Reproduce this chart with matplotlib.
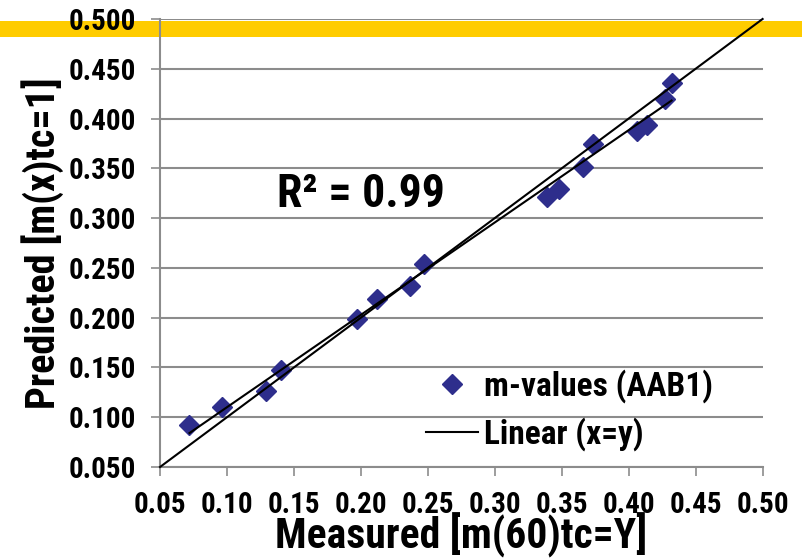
import matplotlib
matplotlib.use('Agg')
import matplotlib.pyplot as plt
import matplotlib.patches as mpatches
from matplotlib import font_manager
import numpy as np

# measured vs predicted m-values
measured = [0.072, 0.096, 0.129, 0.140, 0.197, 0.212, 0.237, 0.247,
            0.339, 0.348, 0.366, 0.373, 0.406, 0.414, 0.427, 0.432]
predicted = [0.092, 0.110, 0.126, 0.147, 0.199, 0.219, 0.232, 0.254,
             0.321, 0.329, 0.351, 0.374, 0.387, 0.394, 0.420, 0.436]
identity = [0.05, 0.50]
r2_text = 'R² = 0.99'

x_ticks = [0.05, 0.10, 0.15, 0.20, 0.25, 0.30, 0.35, 0.40, 0.45, 0.50]
y_ticks = [0.050, 0.100, 0.150, 0.200, 0.250, 0.300, 0.350, 0.400, 0.450, 0.500]

NAVY = '#2E2E8C'
GRID = '#8C8C8C'
BAND = '#FFCC00'


def pick_narrow_font():
    fonts = font_manager.fontManager.ttflist
    names = {f.name for f in fonts}
    for cand in ['Liberation Sans Narrow', 'Roboto Condensed', 'Open Sans Condensed',
                 'Noto Sans Condensed', 'DejaVu Sans Condensed', 'Noto Sans SemiCondensed']:
        if cand in names:
            return cand, 'normal'
    for f in fonts:
        if 'condensed' in str(f.stretch) and f.name in ('DejaVu Sans', 'Noto Sans', 'Roboto', 'Open Sans'):
            return f.name, 'condensed'
    return 'DejaVu Sans', 'normal'


family, stretch = pick_narrow_font()
plt.rcParams['font.family'] = [family, 'DejaVu Sans']
plt.rcParams['font.stretch'] = stretch
plt.rcParams['font.weight'] = 'bold'
plt.rcParams['axes.labelweight'] = 'bold'

fig = plt.figure(figsize=(8.03, 5.58), dpi=100)
fig.patches.append(mpatches.Rectangle((0, 0.9337), 1, 0.0287, transform=fig.transFigure,
                                      facecolor=BAND, edgecolor='none', zorder=-5))

ax = fig.add_axes([0.1993, 0.1631, 0.7504, 0.8029])
ax.patch.set_visible(False)

ax.set_xlim(0.05, 0.50)
ax.set_ylim(0.05, 0.50)
ax.set_xticks(x_ticks)
ax.set_yticks(y_ticks)
ax.set_xticklabels([f'{v:.2f}' for v in x_ticks])
ax.set_yticklabels([f'{v:.3f}' for v in y_ticks])

ax.grid(True, axis='y', color=GRID, linewidth=1.5, zorder=1)
ax.set_axisbelow(True)
for side in ['top', 'right']:
    ax.spines[side].set_visible(False)
for side in ['left', 'bottom']:
    ax.spines[side].set_color(GRID)
    ax.spines[side].set_linewidth(1.5)
ax.tick_params(axis='both', direction='out', length=6.5, width=1.2, color=GRID,
               labelsize=21, pad=11)

# points, least-squares trendline and the x=y line
ax.plot(measured, predicted, linestyle='none', marker='D', markersize=10,
        color=NAVY, label='m-values (AAB1)', zorder=3)
slope, intercept = np.polyfit(measured, predicted, 1)
xf = np.array([min(measured), max(measured)])
ax.plot(xf, slope * xf + intercept, color='black', linewidth=1.5, zorder=4)
ax.plot(identity, identity, color='black', linewidth=1.5, label='Linear (x=y)',
        zorder=4, clip_on=False)

ax.text(0.1375, 0.311, r2_text, fontsize=33, fontweight='bold', va='baseline')

ax.set_xlabel('Measured [m(60)tc=Y]', fontsize=30)
ax.xaxis.set_label_coords(0.5, -0.102)
ax.set_ylabel('Predicted [m(x)tc=1]', fontsize=29)
ax.yaxis.set_label_coords(-0.16, 0.5)

ax.legend(loc='upper left', bbox_to_anchor=(0.442, 0.218), frameon=False,
          fontsize=24, handlelength=1.56, handletextpad=0.18, borderpad=0,
          borderaxespad=0, labelspacing=0.42)

fig.savefig('out.png', dpi=100)
